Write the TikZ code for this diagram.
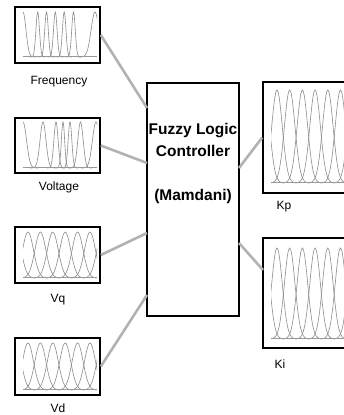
\documentclass[tikz,border=0pt]{standalone}
\usepackage{fontspec}
\setmainfont{Liberation Sans}
\tikzstyle{mfbox} = [rectangle, draw, line width=1.6pt, minimum width=85pt, minimum height=56pt, inner sep=0pt, fill=white]
\tikzstyle{gainbox} = [rectangle, draw, line width=1.6pt, minimum width=100pt, minimum height=111pt, inner sep=0pt, fill=white]
\tikzstyle{ctrlbox} = [rectangle, draw, line width=1.6pt, minimum width=92pt, minimum height=233pt, inner sep=0pt, fill=white]
\tikzstyle{ctrltext} = [align=center, inner sep=0pt, font=\bfseries\fontsize{15.5}{22}\selectfont]
\tikzstyle{caption} = [inner sep=0pt, font=\fontsize{12}{14}\selectfont]
\tikzstyle{link} = [line width=2.6pt, draw=black!30]
\tikzstyle{mf} = [draw=black!45, line width=0.6pt]
\tikzstyle{axisline} = [draw=black!40, line width=1pt]
\begin{document}
\begin{tikzpicture}[x=1pt, y=1pt]
            \path [use as bounding box, clip] (0,0) rectangle (344,415);

            \node [mfbox] at (57.5,380) (freq) {};
            \node [mfbox, minimum height=55pt] at (57.5,269.5) (volt) {};
            \node [mfbox] at (57.5,160) (vq) {};
            \node [mfbox, minimum height=57pt] at (57.5,48.5) (vd) {};
            \node [ctrlbox] at (193,215.5) (ctrl) {};
            \node [gainbox] at (313,277.5) (kp) {};
            \node [gainbox, minimum height=110pt] at (313,122) (ki) {};

            \node [caption] at (59,333) (freqlabel) {Frequency};
            \node [caption] at (59,228) (voltlabel) {Voltage};
            \node [caption] at (58,115) (vqlabel) {Vq};
            \node [caption] at (58,7) (vdlabel) {Vd};
            \node [caption] at (284,208) (kplabel) {Kp};
            \node [caption] at (280,51) (kilabel) {Ki};
            \node [ctrltext] at (193,252) (ctrllabel) {Fuzzy Logic\\Controller\\[22pt](Mamdani)};

            \begin{scope}
                \clip (23,356) rectangle (97,405);
                \foreach \c/\s in {23/4.2, 37.7/2.5, 46.5/2.5, 55.3/2.5, 64.2/2.5, 73.5/2.5, 95/5.5}
                    \draw [mf] plot [domain=\c-3*\s:\c+3*\s, samples=41, smooth] (\x, {358+45*exp(-((\x-\c)/\s)^2)});
            \end{scope}
            \draw [axisline] (23,358) -- (97,358);

            \begin{scope}
                \clip (23,245) rectangle (97,295);
                \foreach \c/\s in {23/5, 43/4.2, 56/3, 63/2.3, 70/2.6, 80.5/3.8, 96/5}
                    \draw [mf] plot [domain=\c-3*\s:\c+3*\s, samples=41, smooth] (\x, {247+46*exp(-((\x-\c)/\s)^2)});
            \end{scope}
            \draw [axisline] (23,247) -- (97,247);

            \begin{scope}
                \clip (23,135) rectangle (97,185);
                \foreach \c in {15.6, 28, 40.4, 52.8, 65.2, 77.6, 90, 102.4}
                    \draw [mf] plot [domain=\c-20:\c+20, samples=41, smooth] (\x, {137+46*exp(-((\x-\c)/7.8)^2)});
            \end{scope}
            \draw [axisline] (23,137) -- (97,137);

            \begin{scope}
                \clip (23,23) rectangle (97,74);
                \foreach \c in {15.6, 28, 40.4, 52.8, 65.2, 77.6, 90, 102.4}
                    \draw [mf] plot [domain=\c-20:\c+20, samples=41, smooth] (\x, {25+47*exp(-((\x-\c)/7.8)^2)});
            \end{scope}
            \draw [axisline] (23,25) -- (97,25);

            \begin{scope}
                \clip (271,230) rectangle (350,327);
                \foreach \c in {264.3, 277, 289.7, 302.4, 315.1, 327.8, 340.5, 353.2}
                    \draw [mf] plot [domain=\c-20:\c+20, samples=41, smooth] (\x, {232+93*exp(-((\x-\c)/7.5)^2)});
            \end{scope}
            \draw [axisline] (271,232) -- (350,232);

            \begin{scope}
                \clip (271,74) rectangle (350,169);
                \foreach \c in {264.3, 277, 289.7, 302.4, 315.1, 327.8, 340.5, 353.2}
                    \draw [mf] plot [domain=\c-20:\c+20, samples=41, smooth] (\x, {76+91*exp(-((\x-\c)/7.5)^2)});
            \end{scope}
            \draw [axisline] (271,76) -- (350,76);

            \coordinate (in1) at (147,307);
            \coordinate (in2) at (147,252);
            \coordinate (in3) at (147,182);
            \coordinate (in4) at (147,120);
            \coordinate (out1) at (239,247);
            \coordinate (out2) at (239,172);
            \coordinate (kiend) at (263,145);

            \draw [link] (freq.east) -- (in1);
            \draw [link] (volt.east) -- (in2);
            \draw [link] (vq.east) -- (in3);
            \draw [link] (vd.east) -- (in4);
            \draw [link] (out1) -- (kp.west);
            \draw [link] (out2) -- (kiend);
            \end{tikzpicture}
\end{document}
